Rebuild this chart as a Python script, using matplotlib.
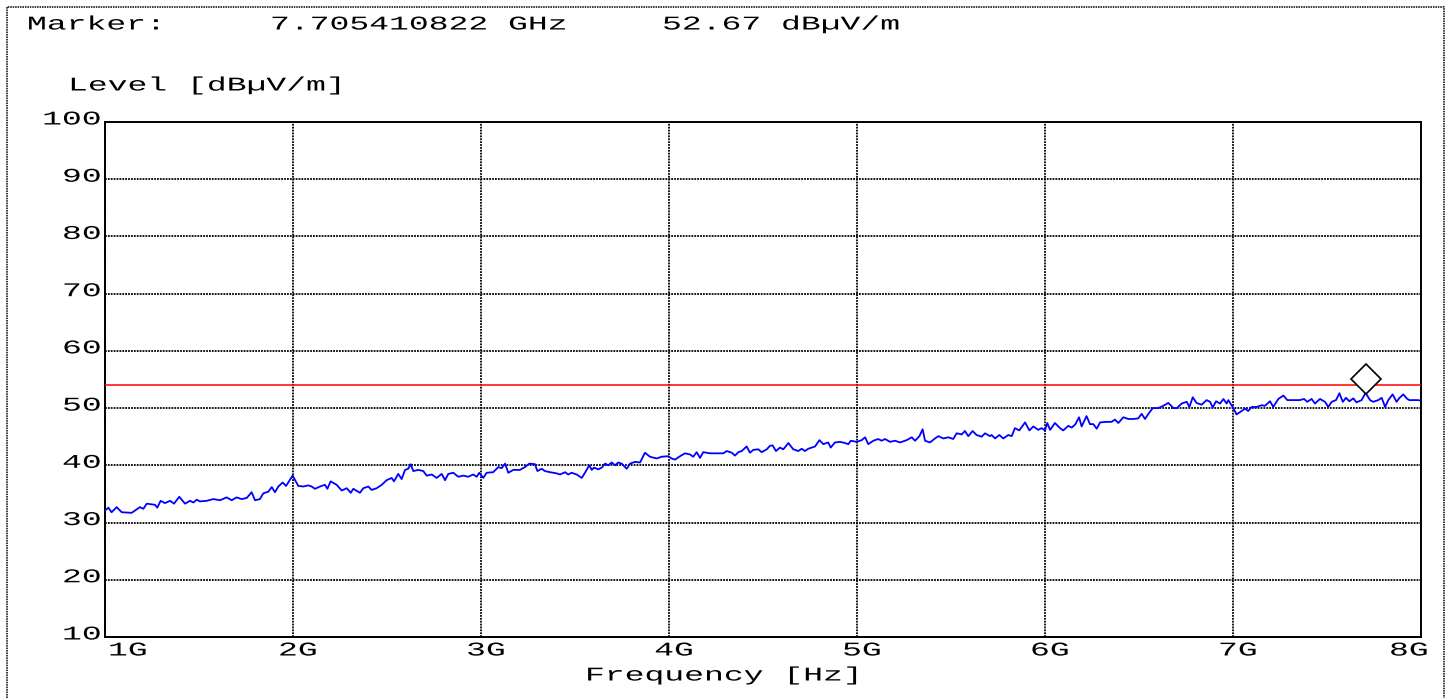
import matplotlib
matplotlib.use("Agg")
import matplotlib.pyplot as plt
from matplotlib.patheffects import AbstractPathEffect
from matplotlib.transforms import Affine2D, ScaledTranslation, blended_transform_factory
from matplotlib.patches import Rectangle

# ---------------- data ----------------
freq_ghz = [
    1.000, 1.018, 1.035, 1.062, 1.089, 1.142, 1.186, 1.204, 1.222, 1.266, 1.278, 1.296, 1.319, 1.346, 1.367,
    1.395, 1.426, 1.452, 1.470, 1.488, 1.505, 1.541, 1.576, 1.612, 1.647, 1.674, 1.700, 1.727, 1.754, 1.780,
    1.798, 1.824, 1.842, 1.869, 1.887, 1.904, 1.922, 1.945, 1.963, 1.998, 2.028, 2.055, 2.081, 2.099, 2.117, 2.144,
    2.170, 2.183, 2.200, 2.232, 2.259, 2.286, 2.307, 2.321, 2.356, 2.374, 2.401, 2.418, 2.445, 2.472, 2.498,
    2.525, 2.537, 2.560, 2.578, 2.596, 2.613, 2.626, 2.640, 2.667, 2.693, 2.711, 2.738, 2.764, 2.791, 2.809,
    2.826, 2.853, 2.879, 2.906, 2.932, 2.959, 2.977, 2.991, 3.012, 3.030, 3.065, 3.092, 3.110, 3.128, 3.145,
    3.172, 3.207, 3.234, 3.257, 3.287, 3.300, 3.323, 3.340,
    3.367, 3.402, 3.420, 3.447, 3.464, 3.482, 3.509, 3.536, 3.553, 3.576, 3.589, 3.601, 3.624, 3.642, 3.660,
    3.677, 3.695, 3.713, 3.730, 3.748, 3.775, 3.793, 3.819, 3.846, 3.872, 3.899, 3.934, 3.961, 3.996, 4.014,
    4.032, 4.059, 4.085, 4.112, 4.129, 4.147, 4.165, 4.182, 4.218, 4.254, 4.289, 4.307, 4.334, 4.351, 4.369,
    4.387, 4.413, 4.431, 4.448, 4.475, 4.493, 4.520, 4.537,
    4.551, 4.569, 4.590, 4.608, 4.635, 4.661, 4.688, 4.706, 4.723, 4.741, 4.777, 4.800, 4.821, 4.847, 4.860,
    4.883, 4.910, 4.936, 4.954, 4.967, 4.998, 5.025, 5.043, 5.060, 5.087, 5.113, 5.131, 5.149, 5.176, 5.202,
    5.229, 5.264, 5.291, 5.309, 5.332, 5.349, 5.362, 5.388, 5.415, 5.433, 5.459, 5.486, 5.512, 5.530, 5.557,
    5.574, 5.592, 5.615, 5.636, 5.663, 5.681, 5.707,
    5.716, 5.734, 5.757, 5.778, 5.805, 5.823, 5.840, 5.863, 5.894, 5.917, 5.938, 5.964, 5.982, 6.000, 6.012,
    6.027, 6.053, 6.080, 6.097, 6.124, 6.142, 6.160, 6.181, 6.195, 6.221, 6.239, 6.257, 6.275, 6.293, 6.328,
    6.355, 6.372, 6.390, 6.417, 6.443, 6.470, 6.496, 6.514, 6.532, 6.550, 6.573, 6.603, 6.629, 6.656, 6.683,
    6.701, 6.727, 6.754, 6.768, 6.786, 6.806, 6.833, 6.860, 6.878,
    6.892, 6.910, 6.931, 6.949, 6.966, 6.975, 6.998, 7.019, 7.046, 7.064, 7.081, 7.099, 7.126, 7.152, 7.170,
    7.197, 7.214, 7.241, 7.268, 7.289, 7.321, 7.356, 7.378, 7.395, 7.418, 7.436, 7.463, 7.489, 7.507, 7.525,
    7.548, 7.566, 7.584, 7.601, 7.619, 7.640, 7.657, 7.684, 7.705, 7.729, 7.746, 7.773, 7.791, 7.809, 7.826,
    7.849, 7.870, 7.886, 7.906, 7.924, 7.937, 7.959, 7.985, 8.000,
]
level_dbuv = [
    32.1, 32.6, 31.8, 32.7, 31.8, 31.7, 32.7, 32.4, 33.3, 33.1, 32.6, 33.8, 33.4, 33.8, 33.3,
    34.5, 33.3, 33.8, 33.5, 34.0, 33.7, 33.8, 34.1, 33.9, 34.4, 33.9, 34.4, 34.1, 34.3, 35.3,
    33.9, 34.1, 35.1, 35.4, 36.2, 35.3, 36.3, 37.0, 36.4, 38.2, 36.4, 36.3, 36.5, 36.3, 35.9, 36.3,
    36.6, 35.9, 37.2, 36.6, 35.6, 36.0, 35.2, 35.9, 35.2, 36.0, 36.3, 35.7, 36.0, 36.6, 37.4,
    37.8, 37.2, 38.5, 37.6, 39.2, 39.4, 40.2, 39.0, 39.2, 39.0, 38.2, 38.4, 37.8, 38.5, 37.4,
    38.5, 38.7, 38.0, 38.2, 38.0, 38.4, 38.0, 38.7, 37.8, 38.7, 38.8, 39.7, 39.5, 40.3, 38.7,
    39.2, 39.2, 39.7, 40.3, 40.2, 39.0, 39.4, 39.0,
    38.8, 38.6, 38.4, 38.8, 38.4, 38.7, 38.4, 37.8, 38.7, 40.0, 39.2, 39.6, 39.3, 39.6, 40.3,
    40.0, 40.5, 40.0, 40.5, 40.3, 39.4, 40.3, 40.6, 40.5, 42.2, 41.5, 41.2, 41.5, 41.6, 41.2,
    41.0, 41.6, 42.1, 41.9, 41.5, 42.3, 41.3, 42.3, 42.1, 42.1, 42.1, 42.5, 42.2, 41.7, 42.3,
    42.5, 43.3, 42.2, 42.7, 42.8, 42.3, 42.8, 43.4,
    43.5, 42.5, 43.1, 42.8, 43.9, 42.8, 42.5, 42.9, 42.5, 42.9, 43.3, 44.4, 43.7, 44.0, 43.1,
    44.0, 44.1, 43.9, 43.7, 44.3, 44.1, 44.4, 44.9, 43.7, 44.3, 44.6, 44.3, 44.6, 44.1, 44.3,
    44.0, 44.4, 44.9, 44.3, 45.1, 46.3, 44.3, 44.0, 44.7, 45.1, 44.7, 44.9, 44.6, 45.6, 45.4,
    46.0, 45.1, 46.0, 45.3, 45.0, 45.6, 45.1,
    45.3, 44.7, 45.3, 44.7, 45.3, 45.1, 46.5, 46.1, 47.5, 46.1, 46.8, 46.2, 46.5, 46.1, 47.4,
    46.2, 47.4, 46.5, 46.1, 46.9, 46.6, 47.1, 48.4, 46.8, 48.6, 47.2, 47.2, 46.4, 47.5, 47.6,
    47.6, 48.0, 47.4, 48.4, 48.1, 48.1, 48.2, 49.0, 48.1, 49.0, 50.0, 50.0, 50.4, 50.9, 50.0,
    50.0, 50.8, 51.1, 50.2, 51.9, 50.9, 50.6, 51.4, 51.1,
    50.1, 51.2, 50.8, 51.6, 50.8, 51.4, 50.2, 48.9, 49.5, 49.9, 49.5, 50.2, 50.2, 50.5, 50.4,
    51.2, 50.2, 51.6, 52.2, 51.4, 51.4, 51.4, 51.6, 51.1, 51.6, 50.8, 51.6, 51.1, 50.2, 51.1,
    51.4, 52.6, 51.1, 51.8, 51.2, 51.7, 51.0, 51.4, 52.67, 51.4, 51.1, 51.4, 51.8, 50.2, 51.4,
    52.4, 51.1, 51.8, 52.4, 51.7, 51.4, 51.4, 51.4, 51.3,
]
limit_level = 54.0
marker_freq = 7.705410822
marker_level = 52.67

x_ticks = [1, 2, 3, 4, 5, 6, 7, 8]
x_ticklabels = ["1G", "2G", "3G", "4G", "5G", "6G", "7G", "8G"]
y_ticks = [10, 20, 30, 40, 50, 60, 70, 80, 90, 100]
y_ticklabels = ["10", "20", "30", "40", "50", "60", "70", "80", "90", "100"]

marker_text = "Marker:"
marker_freq_text = "7.705410822 GHz"
marker_level_text = "52.67 dBµV/m"
y_title = "Level [dBµV/m]"
x_title = "Frequency [Hz]"


# ---------------- horizontal text stretch (text stays real text) ----------------
class HStretch(AbstractPathEffect):
    def __init__(self, sx, anchor="left"):
        super().__init__()
        self.sx = sx
        self.anchor = anchor

    def draw_path(self, renderer, gc, tpath, affine, rgbFace=None):
        ext = tpath.get_extents()
        if self.anchor == "left":
            x0 = 0.0
        elif self.anchor == "right":
            x0 = ext.x1
        else:
            x0 = 0.5 * (ext.x0 + ext.x1)
        t = Affine2D().translate(-x0, 0).scale(self.sx, 1.0).translate(x0, 0)
        renderer.draw_path(gc, tpath, t + affine, rgbFace)


FONT = "Liberation Mono"
FS = 14
SX = 1.70

W, H = 1451, 698
fig = plt.figure(figsize=(W / 100, H / 100), dpi=100)
fig.patch.set_facecolor("white")

ax = fig.add_axes([105 / W, 1 - 637 / H, (1421 - 105) / W, (637 - 122) / H])
ax.set_xlim(1, 8)
ax.set_ylim(10, 100)
ax.set_xticks(x_ticks)
ax.set_yticks(y_ticks)
ax.set_xticklabels([])
ax.set_yticklabels([])
ax.tick_params(length=0)

dots = (0, (1.0, 0.6))
ax.grid(True, color="black", linestyle=dots, linewidth=1.3)
ax.set_axisbelow(True)

for side in ("top", "right"):
    ax.spines[side].set_linewidth(1.4)
    ax.spines[side].set_color("black")
for side in ("left", "bottom"):
    ax.spines[side].set_linewidth(1.4)
    ax.spines[side].set_color("black")
    ax.spines[side].set_linestyle(dots)

# data
ax.axhline(limit_level, color="#ff0000", linewidth=1.1, zorder=3)
ax.plot(freq_ghz, level_dbuv, color="#0000ff", linewidth=1.3, zorder=4)
ax.plot([marker_freq], [marker_level], marker="D", markersize=15, markerfacecolor="white",
        markeredgecolor="black", markeredgewidth=1.2, linestyle="none", zorder=5, clip_on=False,
        transform=ax.transData + ScaledTranslation(0, 0.14, fig.dpi_scale_trans))


def stxt(x, y, s, ha="left", va="center", transform=None, target=fig):
    kw = dict(ha=ha, va=va, fontsize=FS, family=FONT, color="black",
              path_effects=[HStretch(SX, anchor=ha)])
    if transform is None:
        return target.text(x, y, s, **kw)
    return target.text(x, y, s, transform=transform, **kw)


# tick labels
dpi_tr = fig.dpi_scale_trans
xlab_tr = blended_transform_factory(ax.transData, ax.transAxes)
for i, (tx, tl) in enumerate(zip(x_ticks, x_ticklabels)):
    if i == 0:
        ha, dx = "left", 0.03
    elif i == len(x_ticks) - 1:
        ha, dx = "right", 0.07
    else:
        ha, dx = "center", 0.05
    stxt(tx, 0, tl, ha=ha, va="center",
         transform=xlab_tr + ScaledTranslation(dx, -0.14, dpi_tr), target=ax)

ylab_tr = blended_transform_factory(ax.transAxes, ax.transData)
for ty, tl in zip(y_ticks, y_ticklabels):
    stxt(0, ty, tl, ha="right", va="center",
         transform=ylab_tr + ScaledTranslation(-0.04, 0.02, dpi_tr), target=ax)

# header / titles
stxt(27 / W, 1 - 25 / H, marker_text)
stxt(270 / W, 1 - 25 / H, marker_freq_text)
stxt(662 / W, 1 - 25 / H, marker_level_text)
stxt(68 / W, 1 - 86 / H, y_title)
stxt(585 / W, 1 - 676 / H, x_title)

# outer dotted frame
fig.add_artist(Rectangle((7 / W, -0.05), (1444 - 7) / W, 1.05 - 7 / H, transform=fig.transFigure,
                         fill=False, edgecolor="black", linewidth=1.1, linestyle=dots))

fig.savefig("out.png", dpi=100, facecolor="white")
